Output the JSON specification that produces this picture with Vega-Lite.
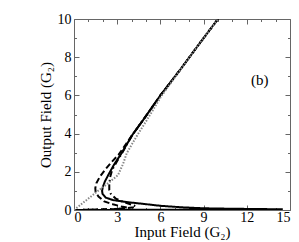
{
  "$schema": "https://vega.github.io/schema/vega-lite/v6.json",
  "autosize": {"type": "none"},
  "padding": {"left": 74, "top": 19, "right": 9, "bottom": 32},
  "width": 216,
  "height": 191,
  "background": "white",
  "config": {
    "view": {"stroke": null},
    "axis": {
      "labelFont": "Liberation Serif",
      "labelFontSize": 14,
      "labelColor": "black",
      "titleFont": "Liberation Serif",
      "titleFontSize": 15,
      "titleFontWeight": "normal",
      "titleColor": "black",
      "domainColor": "#666",
      "tickColor": "#666",
      "grid": false
    }
  },
  "datasets": {
    "curves": [
      {"series": "a", "order": 0, "x": 0, "y": 0},
      {"series": "a", "order": 1, "x": 4, "y": 0.01},
      {"series": "a", "order": 2, "x": 9, "y": 0.022},
      {"series": "a", "order": 3, "x": 14.5, "y": 0.035},
      {"series": "a", "order": 4, "x": 13, "y": 0.05},
      {"series": "a", "order": 5, "x": 11, "y": 0.065},
      {"series": "a", "order": 6, "x": 9, "y": 0.09},
      {"series": "a", "order": 7, "x": 7.5, "y": 0.14},
      {"series": "a", "order": 8, "x": 6, "y": 0.22},
      {"series": "a", "order": 9, "x": 4.7, "y": 0.33},
      {"series": "a", "order": 10, "x": 3.6, "y": 0.42},
      {"series": "a", "order": 11, "x": 2.7, "y": 0.52},
      {"series": "a", "order": 12, "x": 2.2, "y": 0.65},
      {"series": "a", "order": 13, "x": 1.98, "y": 0.85},
      {"series": "a", "order": 14, "x": 1.95, "y": 1.0},
      {"series": "a", "order": 15, "x": 2.0, "y": 1.2},
      {"series": "a", "order": 16, "x": 2.15, "y": 1.5},
      {"series": "a", "order": 17, "x": 2.38, "y": 1.83},
      {"series": "a", "order": 18, "x": 2.8, "y": 2.4},
      {"series": "a", "order": 19, "x": 3.3, "y": 2.97},
      {"series": "a", "order": 20, "x": 4.05, "y": 3.93},
      {"series": "a", "order": 21, "x": 4.8, "y": 4.71},
      {"series": "a", "order": 22, "x": 6.0, "y": 6.0},
      {"series": "a", "order": 23, "x": 7.36, "y": 7.33},
      {"series": "a", "order": 24, "x": 8.7, "y": 8.7},
      {"series": "a", "order": 25, "x": 10, "y": 10},

      {"series": "b", "order": 0, "x": 0, "y": 0},
      {"series": "b", "order": 1, "x": 1.5, "y": 0.02},
      {"series": "b", "order": 2, "x": 2.8, "y": 0.05},
      {"series": "b", "order": 3, "x": 3.6, "y": 0.09},
      {"series": "b", "order": 4, "x": 3.7, "y": 0.13},
      {"series": "b", "order": 5, "x": 3.3, "y": 0.18},
      {"series": "b", "order": 6, "x": 2.7, "y": 0.3},
      {"series": "b", "order": 7, "x": 2.1, "y": 0.45},
      {"series": "b", "order": 8, "x": 1.7, "y": 0.7},
      {"series": "b", "order": 9, "x": 1.5, "y": 0.95},
      {"series": "b", "order": 10, "x": 1.48, "y": 1.15},
      {"series": "b", "order": 11, "x": 1.55, "y": 1.4},
      {"series": "b", "order": 12, "x": 1.8, "y": 1.75},
      {"series": "b", "order": 13, "x": 2.15, "y": 2.1},
      {"series": "b", "order": 14, "x": 2.6, "y": 2.5},
      {"series": "b", "order": 15, "x": 3.1, "y": 2.9},
      {"series": "b", "order": 16, "x": 4.05, "y": 3.93},
      {"series": "b", "order": 17, "x": 4.8, "y": 4.71},
      {"series": "b", "order": 18, "x": 6.0, "y": 6.0},
      {"series": "b", "order": 19, "x": 7.36, "y": 7.33},
      {"series": "b", "order": 20, "x": 8.7, "y": 8.7},
      {"series": "b", "order": 21, "x": 10, "y": 10},

      {"series": "c", "order": 0, "x": 0, "y": 0},
      {"series": "c", "order": 1, "x": 2, "y": 0.03},
      {"series": "c", "order": 2, "x": 3.5, "y": 0.08},
      {"series": "c", "order": 3, "x": 4.2, "y": 0.15},
      {"series": "c", "order": 4, "x": 4.3, "y": 0.2},
      {"series": "c", "order": 5, "x": 4.0, "y": 0.28},
      {"series": "c", "order": 6, "x": 3.5, "y": 0.4},
      {"series": "c", "order": 7, "x": 2.9, "y": 0.6},
      {"series": "c", "order": 8, "x": 2.55, "y": 0.85},
      {"series": "c", "order": 9, "x": 2.45, "y": 1.05},
      {"series": "c", "order": 10, "x": 2.45, "y": 1.3},
      {"series": "c", "order": 11, "x": 2.5, "y": 1.7},
      {"series": "c", "order": 12, "x": 2.65, "y": 2.1},
      {"series": "c", "order": 13, "x": 2.95, "y": 2.5},
      {"series": "c", "order": 14, "x": 3.35, "y": 3.0},
      {"series": "c", "order": 15, "x": 4.05, "y": 3.93},
      {"series": "c", "order": 16, "x": 4.8, "y": 4.71},
      {"series": "c", "order": 17, "x": 6.0, "y": 6.0},
      {"series": "c", "order": 18, "x": 7.36, "y": 7.33},
      {"series": "c", "order": 19, "x": 8.7, "y": 8.7},
      {"series": "c", "order": 20, "x": 10, "y": 10},

      {"series": "d", "order": 0, "x": 0, "y": 0},
      {"series": "d", "order": 1, "x": 0.8, "y": 0.48},
      {"series": "d", "order": 2, "x": 1.6, "y": 0.96},
      {"series": "d", "order": 3, "x": 2.4, "y": 1.42},
      {"series": "d", "order": 4, "x": 3.06, "y": 1.83},
      {"series": "d", "order": 5, "x": 3.4, "y": 2.4},
      {"series": "d", "order": 6, "x": 3.66, "y": 2.97},
      {"series": "d", "order": 7, "x": 4.3, "y": 3.8},
      {"series": "d", "order": 8, "x": 5.05, "y": 4.7},
      {"series": "d", "order": 9, "x": 6.1, "y": 6.0},
      {"series": "d", "order": 10, "x": 7.4, "y": 7.35},
      {"series": "d", "order": 11, "x": 8.7, "y": 8.7},
      {"series": "d", "order": 12, "x": 10, "y": 10}
    ],
    "label": [
      {"x": 12.9, "y": 6.8, "text": "(b)"}
    ]
  },
  "layer": [
    {
      "data": {"name": "curves"},
      "mark": {"type": "line", "clip": true},
      "encoding": {
        "x": {
          "field": "x", "type": "quantitative",
          "scale": {"domain": [0, 15], "nice": false, "zero": false},
          "axis": {"orient": "bottom", "values": [0, 3, 6, 9, 12, 15], "title": "Input Field (G₂)", "tickSize": -5, "labelPadding": 5, "titleY": 26, "titleBaseline": "alphabetic"}
        },
        "y": {
          "field": "y", "type": "quantitative",
          "scale": {"domain": [0, 10], "nice": false, "zero": false},
          "axis": {"orient": "left", "values": [0, 2, 4, 6, 8, 10], "title": "Output Field (G₂)", "tickSize": -5, "labelPadding": 8, "titleX": -24, "titleBaseline": "alphabetic"}
        },
        "order": {"field": "order", "type": "quantitative"},
        "detail": {"field": "series"},
        "color": {"field": "series", "type": "nominal", "legend": null,
          "scale": {"domain": ["a", "b", "c", "d"], "range": ["#000000", "#000000", "#000000", "#888888"]}},
        "strokeDash": {"field": "series", "type": "nominal", "legend": null,
          "scale": {"domain": ["a", "b", "c", "d"], "range": [[1, 0], [6, 3], [6, 3, 1.5, 3], [1.5, 1.5]]}},
        "strokeWidth": {"field": "series", "type": "nominal", "legend": null,
          "scale": {"domain": ["a", "b", "c", "d"], "range": [2, 2, 2, 1.2]}}
      }
    },
    {
      "data": {"name": "label"},
      "mark": {"type": "text", "font": "Liberation Serif", "fontSize": 15, "color": "black"},
      "encoding": {
        "x": {"field": "x", "type": "quantitative",
          "axis": {"orient": "top", "values": [0, 3, 6, 9, 12, 15], "labels": false, "title": null, "tickSize": -5}},
        "y": {"field": "y", "type": "quantitative",
          "axis": {"orient": "right", "values": [0, 2, 4, 6, 8, 10], "labels": false, "title": null, "tickSize": -5}},
        "text": {"field": "text"}
      }
    },
    {
      "data": {"name": "label"},
      "mark": {"type": "text", "opacity": 0},
      "encoding": {
        "x": {"field": "x", "type": "quantitative",
          "axis": {"orient": "bottom", "values": [1, 2, 4, 5, 7, 8, 10, 11, 13, 14], "labels": false, "title": null, "tickSize": -2.5, "domain": false}},
        "y": {"field": "y", "type": "quantitative",
          "axis": {"orient": "left", "values": [1, 3, 5, 7, 9], "labels": false, "title": null, "tickSize": -2.5, "domain": false}},
        "text": {"field": "text"}
      }
    },
    {
      "data": {"name": "label"},
      "mark": {"type": "text", "opacity": 0},
      "encoding": {
        "x": {"field": "x", "type": "quantitative",
          "axis": {"orient": "top", "values": [1, 2, 4, 5, 7, 8, 10, 11, 13, 14], "labels": false, "title": null, "tickSize": -2.5, "domain": false}},
        "y": {"field": "y", "type": "quantitative",
          "axis": {"orient": "right", "values": [1, 3, 5, 7, 9], "labels": false, "title": null, "tickSize": -2.5, "domain": false}},
        "text": {"field": "text"}
      }
    }
  ],
  "resolve": {"axis": {"x": "independent", "y": "independent"}}
}
